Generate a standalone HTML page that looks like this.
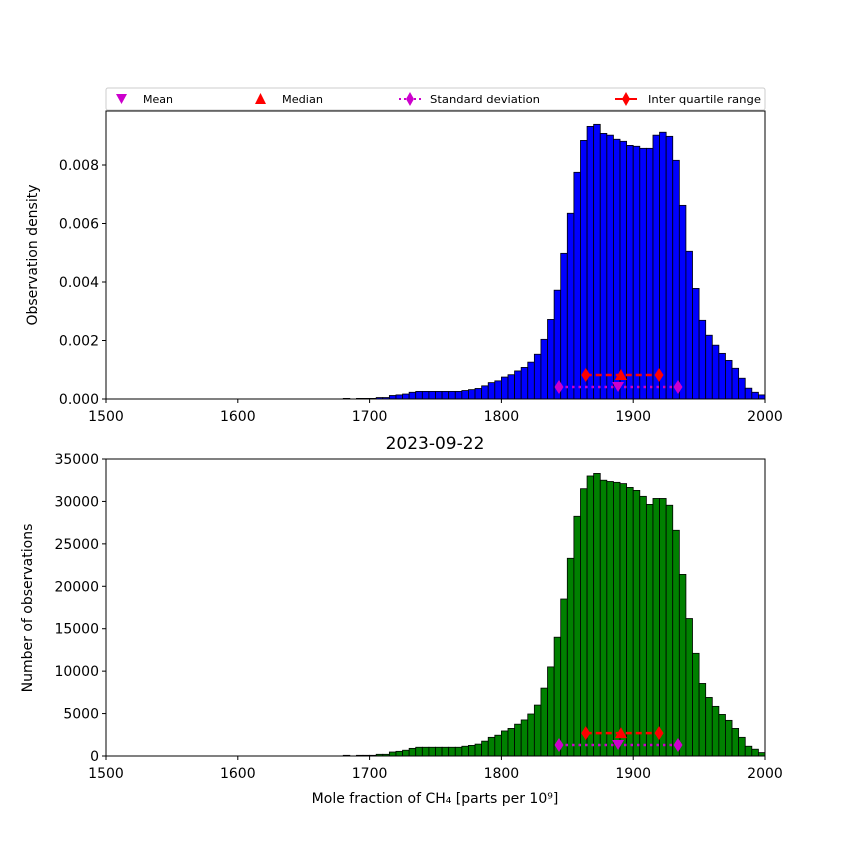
<!DOCTYPE html>
<html><head><meta charset="utf-8">
<style>body{margin:0;background:#fff}svg{display:block;font-family:"DejaVu Sans","Liberation Sans",sans-serif}</style>
</head><body>
<svg id="chart" width="850" height="850" xmlns="http://www.w3.org/2000/svg">
<rect width="850" height="850" fill="#fff"/>
<g id="top"></g>
<g id="bot"></g>
<g id="legend"></g>
<text x="435" y="449" font-size="17" text-anchor="middle">2023-09-22</text>
<text x="435" y="803" font-size="14" text-anchor="middle">Mole fraction of CH₄ [parts per 10⁹]</text>
<text transform="translate(37,255) rotate(-90)" font-size="14" text-anchor="middle">Observation density</text>
<text transform="translate(32,608) rotate(-90)" font-size="14" text-anchor="middle">Number of observations</text>
</svg>
<script>
const binStarts = [];
for (let b = 1680; b < 2000; b += 5) binStarts.push(b);
const binWidth = 5;
const counts = [80,0,80,80,80,200,200,470,550,680,900,1030,1030,1030,1030,1030,1030,1030,1150,1250,1400,1750,2200,2450,2950,3250,3750,4250,4950,6000,8000,10500,14000,18500,23300,28250,31500,33000,33300,32500,32350,32250,32100,31650,31300,30600,29650,30350,30350,29550,26600,21400,16200,12100,8550,6900,5850,4900,4200,3250,2200,1150,800,400];
const density = [0.00002,0,0.00002,0.00002,0.00002,0.00005,0.00005,0.00012,0.00014,0.00017,0.00023,0.00026,0.00026,0.00026,0.00026,0.00026,0.00026,0.00026,0.00029,0.00032,0.00036,0.00045,0.00056,0.00062,0.00075,0.00083,0.00096,0.00108,0.00126,0.00153,0.00204,0.00272,0.00372,0.00498,0.00635,0.00775,0.00884,0.00932,0.00939,0.00908,0.00902,0.00888,0.00881,0.00867,0.00864,0.00857,0.00857,0.00902,0.00912,0.00898,0.00816,0.00662,0.00505,0.00378,0.00269,0.00218,0.00184,0.00156,0.00132,0.00105,0.00071,0.00037,0.00023,0.00014];
const xTicks = [1500,1600,1700,1800,1900,2000];
const densityTicks = [0,0.002,0.004,0.006,0.008];
const densityTickLabels = ["0.000","0.002","0.004","0.006","0.008"];
const countTicks = [0,5000,10000,15000,20000,25000,30000,35000];
const statMean = 1888.5, statMedian = 1890.7;
const statIQR = [1864, 1919.6];
const statStd = [1843.7, 1934];
const densityStatY = [0.00041, 0.00082];
const countStatY = [1300, 2700];

const NS = "http://www.w3.org/2000/svg";
function mk(parent, tag, attrs){const e=document.createElementNS(NS,tag);for(const k in attrs)e.setAttribute(k,attrs[k]);parent.appendChild(e);return e;}
const X0=106,X1=765;
const xs = v => X0 + (v-1500)/(500)*(X1-X0);

function panel(g, top, bottom, ymax, vals, color, ticks, tickLabels, statY, prefix){
  const ys = v => bottom - v/ymax*(bottom-top);
  mk(g,'rect',{x:X0,y:top,width:X1-X0,height:bottom-top,fill:'#fff'});
  vals.forEach((v,i)=>{
    if(v<=0) return;
    const r = mk(g,'rect',{x:xs(binStarts[i]),y:ys(v),width:xs(binStarts[i]+binWidth)-xs(binStarts[i]),height:bottom-ys(v),fill:color,stroke:'#000','stroke-width':0.8});
    
    
  });
  const yStd = ys(statY[0]), yIqr = ys(statY[1]);
  mk(g,'line',{x1:xs(statStd[0]),x2:xs(statStd[1]),y1:yStd,y2:yStd,stroke:'#c0c',"stroke-width":2.5,"stroke-dasharray":"2.5,4"});
  statStd.forEach(v=>mk(g,'path',{d:`M${xs(v)},${yStd-7}L${xs(v)+4.5},${yStd}L${xs(v)},${yStd+7}L${xs(v)-4.5},${yStd}Z`,fill:'#c0c'}));
  mk(g,'path',{d:`M${xs(statMean)-6},${yStd-5}L${xs(statMean)+6},${yStd-5}L${xs(statMean)},${yStd+5}Z`,fill:'#c0c'});
  mk(g,'line',{x1:xs(statIQR[0]),x2:xs(statIQR[1]),y1:yIqr,y2:yIqr,stroke:'#f00',"stroke-width":2.5,"stroke-dasharray":"6,4"});
  statIQR.forEach(v=>mk(g,'path',{d:`M${xs(v)},${yIqr-7}L${xs(v)+4.5},${yIqr}L${xs(v)},${yIqr+7}L${xs(v)-4.5},${yIqr}Z`,fill:'#f00'}));
  mk(g,'path',{d:`M${xs(statMedian)-6},${yIqr+5}L${xs(statMedian)+6},${yIqr+5}L${xs(statMedian)},${yIqr-6}Z`,fill:'#f00'});
  mk(g,'rect',{x:X0,y:top,width:X1-X0,height:bottom-top,fill:'none',stroke:'#000','stroke-width':1});
  xTicks.forEach(t=>{
    mk(g,'line',{x1:xs(t),x2:xs(t),y1:bottom,y2:bottom+4,stroke:'#000'});
    const tx=mk(g,'text',{x:xs(t),y:bottom+22,'font-size':14,'text-anchor':'middle'});tx.textContent=t;
  });
  ticks.forEach((t,i)=>{
    mk(g,'line',{x1:X0-4,x2:X0,y1:ys(t),y2:ys(t),stroke:'#000'});
    const tx=mk(g,'text',{x:X0-7,y:ys(t)+5,'font-size':14,'text-anchor':'end'});tx.textContent=tickLabels[i];
  });
}
panel(document.getElementById('top'),111,399,0.008*(288/234),density,'#00f',densityTicks,densityTickLabels,densityStatY,'density');
panel(document.getElementById('bot'),459,756,35000,counts,'#008000',countTicks,countTicks.map(String),countStatY,'count');

const lg=document.getElementById('legend');
mk(lg,'rect',{x:106,y:88,width:659,height:22,fill:'#fff',stroke:'#ccc',rx:2});
function lt(x,s,w){const t=mk(lg,'text',{x:x,y:103,'font-size':10.5,'textLength':w,'lengthAdjust':'spacingAndGlyphs'});t.textContent=s;return t;}
mk(lg,'path',{d:'M116,94L127,94L121.5,104Z',fill:'#c0c'}); lt(143,'Mean',30);
mk(lg,'path',{d:'M255,104L266,104L260.5,93Z',fill:'#f00'}); lt(282,'Median',41);
mk(lg,'line',{x1:399,x2:421,y1:99,y2:99,stroke:'#c0c','stroke-width':2,'stroke-dasharray':'2,3'});
mk(lg,'path',{d:'M410,92L414,99L410,106L406,99Z',fill:'#c0c'}); lt(430,'Standard deviation',110);
mk(lg,'line',{x1:615,x2:637,y1:99,y2:99,stroke:'#f00','stroke-width':2});
mk(lg,'path',{d:'M626,92L630,99L626,106L622,99Z',fill:'#f00'}); lt(648,'Inter quartile range',113);
</script>
</body></html>
